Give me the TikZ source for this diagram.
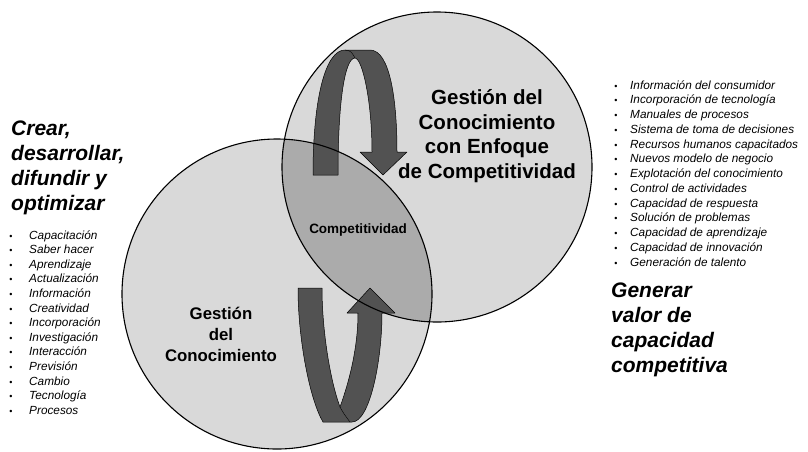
\documentclass[tikz,border=0pt]{standalone}
\usepackage{fontspec}
\setmainfont{Liberation Sans}
\begin{document}
\begin{tikzpicture}[x=1pt,y=-1pt,
    titulo/.style={font=\fontsize{21}{25}\selectfont\bfseries\itshape,align=left,anchor=west,inner sep=0pt},
    lista/.style={font=\fontsize{11.8}{14}\selectfont\itshape,anchor=base west,inner sep=0pt},
    punto/.style={font=\fontsize{9}{10}\selectfont,anchor=base,inner sep=0pt},
    flecha/.style={fill=black!68,draw=black,line width=.5pt,line join=round}]
  \useasboundingbox (0,0) rectangle (808,451);
% circulos
  \fill[gray!30] (277,294) circle [radius=155pt];
  \fill[gray!30] (437,167) circle [radius=155pt];
  \begin{scope}
    \clip (277,294) circle [radius=155pt];
    \fill[gray!66] (437,167) circle [radius=155pt];
  \end{scope}
% flecha de arriba
  \draw[flecha] (313,175) .. controls (313,100) and (325,50) .. (345,50) -- (370,50)
      .. controls (390,50) and (397,100) .. (397,152) -- (407,152) -- (383,175) -- (360,152) -- (372,152)
      .. controls (372,100) and (362,58) .. (355,58) .. controls (345,58) and (338,100) .. (338,175) -- cycle;
  \draw[black,line width=.4pt] (345,50) .. controls (351,51) .. (355,58);
% flecha de abajo
  \draw[flecha] (298,288) -- (322,288) .. controls (322,330) and (330,380) .. (340,407)
      .. controls (348,385) and (358,350) .. (358,313) -- (347,313) -- (370,288) -- (395,313) -- (382,313)
      .. controls (382,360) and (370,422) .. (352,422) -- (323,422) .. controls (310,400) and (298,340) .. (298,288) -- cycle;
  \draw[black,line width=.4pt] (340,407) .. controls (344,414) .. (350,422);
  \draw[line width=1.1pt] (277,294) circle [radius=155pt];
  \draw[line width=1.1pt] (437,167) circle [radius=155pt];
% textos
  \node[font=\fontsize{20.5}{24.5}\selectfont\bfseries,align=center] (gce) at (487,136)
      {Gestión del\\Conocimiento\\con Enfoque\\de Competitividad};
  \node[font=\fontsize{13.5}{16}\selectfont\bfseries] (comp) at (358,230) {Competitividad};
  \node[font=\fontsize{16.8}{21}\selectfont\bfseries,align=center] (gc) at (221,334)
      {Gestión\\del\\Conocimiento};
  \node[titulo] (crear) at (11,168) {Crear,\\desarrollar,\\difundir y\\optimizar};
  \node[titulo] (gen) at (611,330) {Generar\\valor de\\capacidad\\competitiva};
% listas
  \foreach \t [count=\i] in {Capacitación,Saber hacer,Aprendizaje,Actualización,Información,
      Creatividad,Incorporación,Investigación,Interacción,Previsión,Cambio,Tecnología,Procesos}{
    \node[punto] (lb\i) at (11,{239+14.6*(\i-1)}) {\textbullet};
    \node[lista] (l\i) at (29,{239+14.6*(\i-1)}) {\t};
  }
  \foreach \t [count=\i] in {Información del consumidor,Incorporación de tecnología,Manuales de procesos,
      Sistema de toma de decisiones,Recursos humanos capacitados,Nuevos modelo de negocio,
      Explotación del conocimiento,Control de actividades,Capacidad de respuesta,
      Solución de problemas,Capacidad de aprendizaje,Capacidad de innovación,Generación de talento}{
    \node[punto] (rb\i) at (616,{89+14.75*(\i-1)}) {\textbullet};
    \node[lista] (r\i) at (630,{89+14.75*(\i-1)}) {\t};
  }
\end{tikzpicture}
\end{document}
